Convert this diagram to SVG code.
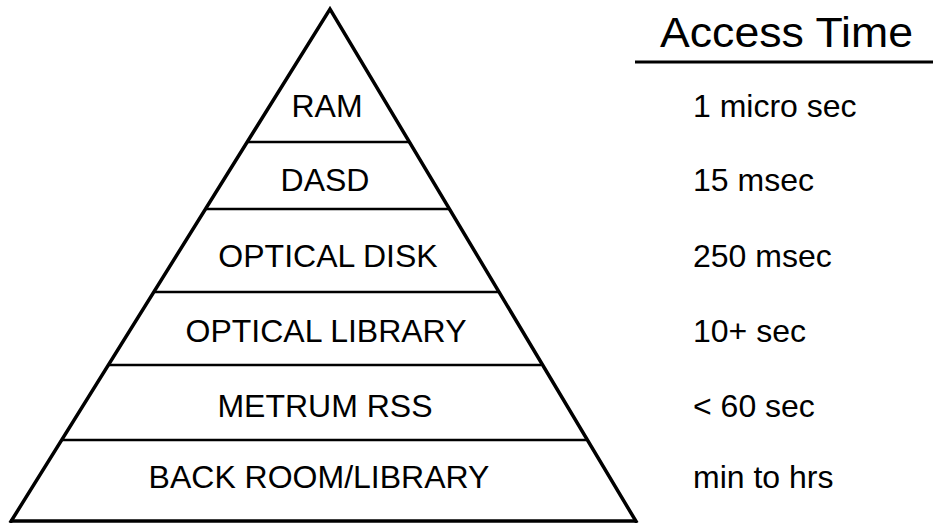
<svg xmlns="http://www.w3.org/2000/svg" width="933" height="523" viewBox="0 0 933 523">
<style>
.edge{stroke:#000;stroke-width:3.5;fill:none;stroke-linejoin:miter}
.tier{stroke:#000;stroke-width:2.5}
.lbl{font-family:"Liberation Sans",Arial,sans-serif;font-size:32px;fill:#000;text-anchor:middle}
.tm{font-family:"Liberation Sans",Arial,sans-serif;font-size:32px;fill:#000}
.hd{font-family:"Liberation Sans",Arial,sans-serif;font-size:42px;fill:#000}
</style>
<rect width="933" height="523" fill="#fff"/>
<g id="pyramid">
<polyline class="edge" points="10,523 330,9 637,523"/>
<line class="edge" x1="10" y1="521" x2="636" y2="521"/>
</g>
<g id="connectors">
<line class="tier" x1="247" y1="142" x2="409" y2="142"/>
<line class="tier" x1="206" y1="209" x2="449" y2="209"/>
<line class="tier" x1="155" y1="292" x2="498" y2="292"/>
<line class="tier" x1="109" y1="365" x2="541" y2="365"/>
<line class="tier" x1="62" y1="440" x2="586" y2="440"/>
</g>
<g id="ram"><text class="lbl" x="327" y="117">RAM</text></g>
<g id="dasd"><text class="lbl" x="325" y="191">DASD</text></g>
<g id="optical-disk"><text class="lbl" x="328" y="267">OPTICAL DISK</text></g>
<g id="optical-library"><text class="lbl" x="326" y="342">OPTICAL LIBRARY</text></g>
<g id="metrum-rss"><text class="lbl" x="325" y="417">METRUM RSS</text></g>
<g id="back-room"><text class="lbl" x="319" y="488">BACK ROOM/LIBRARY</text></g>
<g id="access-time">
<text class="hd" x="660" y="47" textLength="253" lengthAdjust="spacingAndGlyphs">Access Time</text>
<line x1="635" y1="62" x2="933" y2="62" stroke="#000" stroke-width="3"/>
</g>
<g id="times">
<text class="tm" x="693" y="117">1 micro sec</text>
<text class="tm" x="693" y="191">15 msec</text>
<text class="tm" x="693" y="267">250 msec</text>
<text class="tm" x="693" y="342">10+ sec</text>
<text class="tm" x="693" y="417">&lt; 60 sec</text>
<text class="tm" x="693" y="488">min to hrs</text>
</g>
</svg>
